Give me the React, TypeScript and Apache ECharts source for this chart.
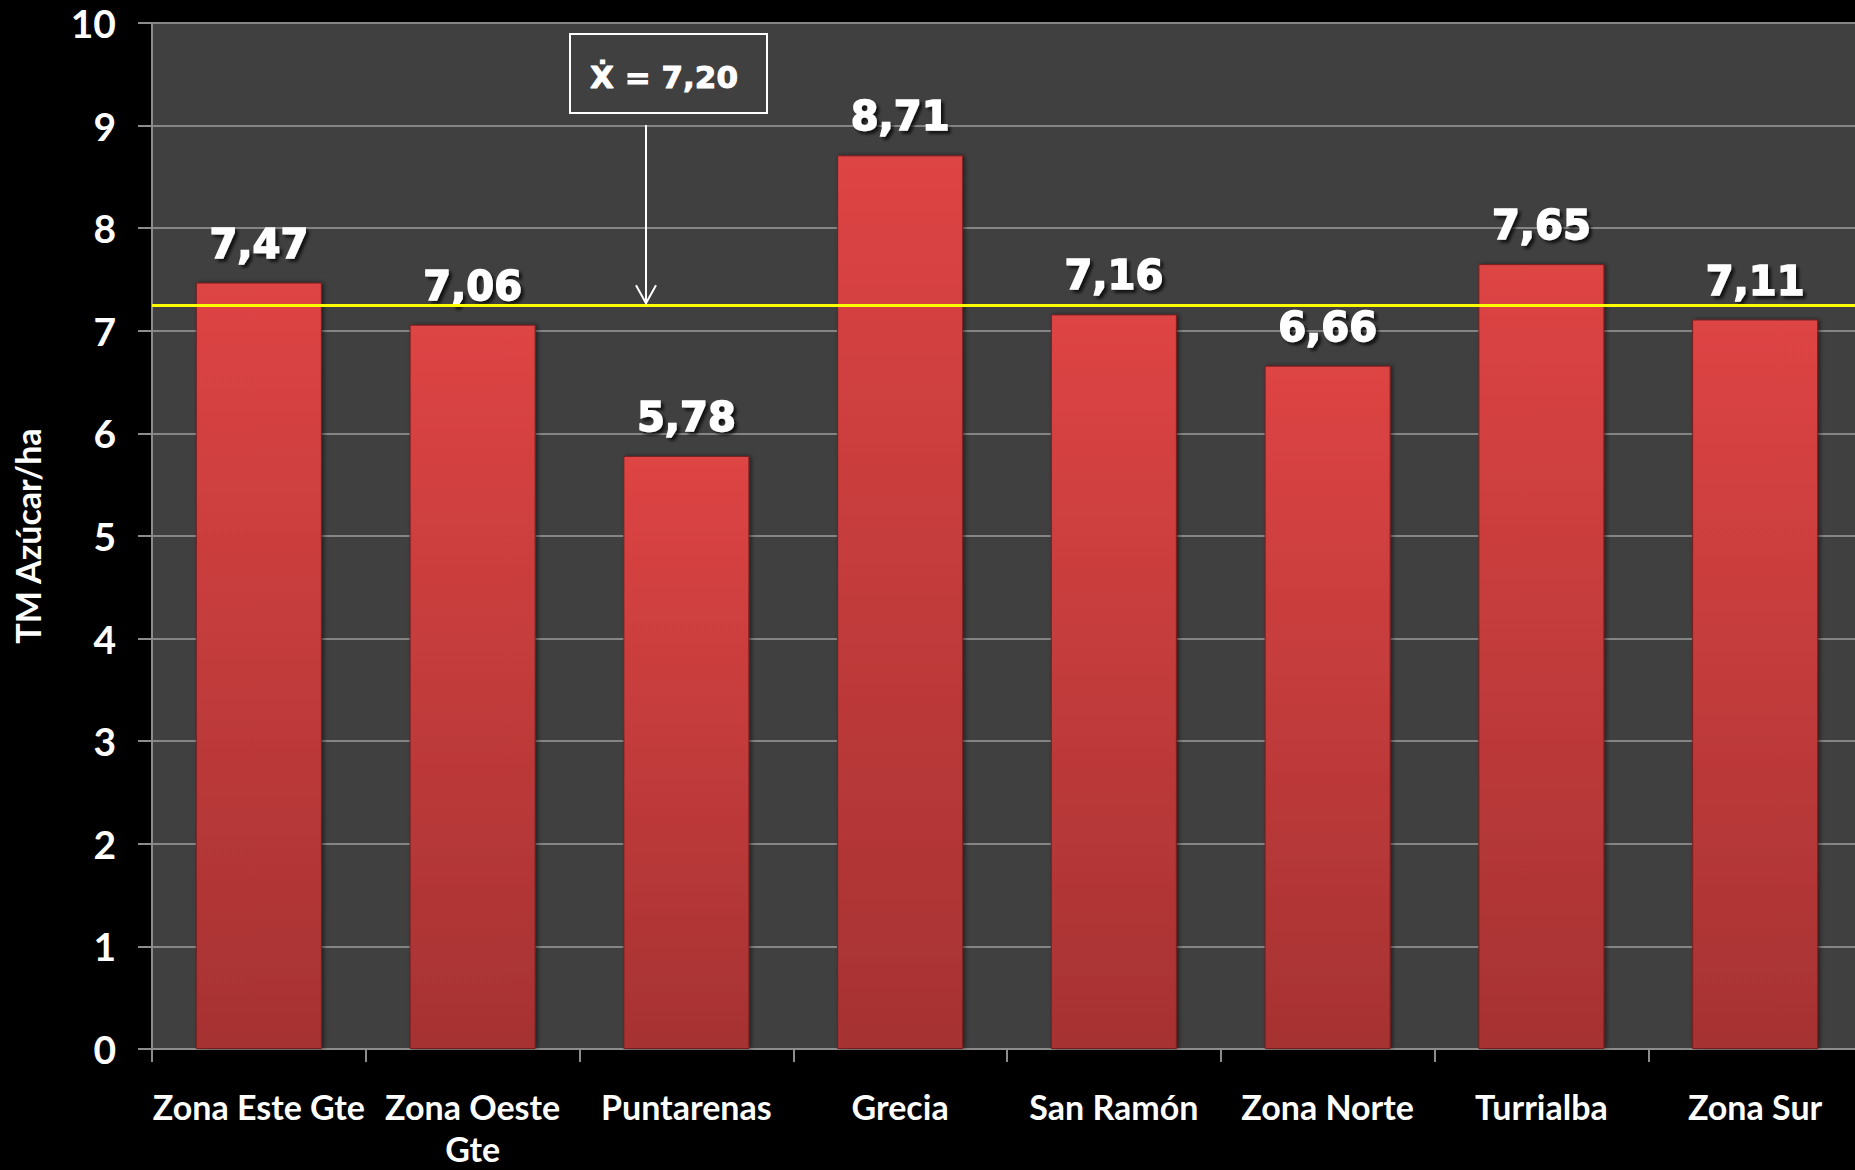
import React, { useEffect, useRef } from "react";
import * as echarts from "echarts";

const categories = [
  "Zona Este Gte",
  "Zona Oeste Gte",
  "Puntarenas",
  "Grecia",
  "San Ramón",
  "Zona Norte",
  "Turrialba",
  "Zona Sur",
];
const values = [7.47, 7.06, 5.78, 8.71, 7.16, 6.66, 7.65, 7.11];
const yTicks = [0, 1, 2, 3, 4, 5, 6, 7, 8, 9, 10];
const meanLineValue = 7.25;
const meanText = "Ẋ = 7,20";
const yAxisTitle = "TM Azúcar/ha";

const wrapLabels: Record<string, string> = { "Zona Oeste Gte": "Zona Oeste\nGte" };

export default function App() {
  const ref = useRef<HTMLDivElement>(null);
  useEffect(() => {
    document.body.style.margin = "0";
    const chart = echarts.init(ref.current!, null, { renderer: "svg" });
    const option: any = {
      animation: false,
      backgroundColor: "#000000",
      grid: {
        left: 152,
        right: -7,
        top: 23,
        bottom: 121,
        show: true,
        backgroundColor: "#404040",
        borderWidth: 0,
        containLabel: false,
        outerBoundsMode: "none",
      },
      xAxis: {
        type: "category",
        data: categories,
        axisLine: { show: true, lineStyle: { color: "#8c8c8c", width: 2 } },
        axisTick: { show: true, length: 13, lineStyle: { color: "#8c8c8c", width: 2 } },
        axisLabel: {
          color: "#ffffff",
          fontFamily: "Lato",
          fontWeight: "bold",
          fontSize: 34,
          margin: 36,
          lineHeight: 42,
          interval: 0,
          formatter: (v: string) => wrapLabels[v] || v,
        },
      },
      yAxis: {
        type: "value",
        min: yTicks[0],
        max: yTicks[yTicks.length - 1],
        interval: 1,
        name: yAxisTitle,
        nameLocation: "middle",
        nameGap: 108,
        nameTextStyle: {
          color: "#ffffff",
          fontFamily: "Lato",
          fontWeight: "bold",
          fontSize: 34,
        },
        axisLine: { show: true, lineStyle: { color: "#8c8c8c", width: 2 } },
        axisTick: { show: true, length: 14, lineStyle: { color: "#8c8c8c", width: 2 } },
        splitLine: { show: true, lineStyle: { color: "#858585", width: 2 } },
        axisLabel: {
          color: "#ffffff",
          fontFamily: "Lato",
          fontWeight: "bold",
          fontSize: 39,
          margin: 36,
        },
      },
      series: [
        {
          type: "bar",
          data: values,
          barWidth: 126,
          itemStyle: {
            color: new echarts.graphic.LinearGradient(0, 0, 0, 1, [
              { offset: 0, color: "#de4444" },
              { offset: 1, color: "#a63232" },
            ]),
            borderColor: "#7a1f1f",
            borderWidth: 1,
            shadowColor: "rgba(0,0,0,0.5)",
            shadowBlur: 4,
            shadowOffsetX: 2,
            shadowOffsetY: 0,
          },
          label: {
            show: true,
            position: "top",
            distance: 19,
            color: "#ffffff",
            fontFamily: "DejaVu Sans",
            fontWeight: "bold",
            fontSize: 40,
            textBorderColor: "#ffffff",
            textBorderWidth: 1.5,
            textShadowColor: "rgba(0,0,0,0.7)",
            textShadowBlur: 3,
            textShadowOffsetX: 3,
            textShadowOffsetY: 3,
            formatter: (p: any) => p.value.toFixed(2).replace(".", ","),
          },
          markLine: {
            silent: true,
            symbol: "none",
            label: { show: false },
            lineStyle: { color: "#ffff00", width: 3, type: "solid" },
            data: [{ yAxis: meanLineValue }],
          },
        },
      ],
    };
    chart.setOption(option);
    const lineY = chart.convertToPixel({ yAxisIndex: 0 }, meanLineValue) as number;
    const arrowX = 646;
    const boxTop = 34;
    const boxBottom = 113;
    chart.setOption({
      graphic: [
        {
          type: "rect",
          shape: { x: 570, y: boxTop, width: 197, height: boxBottom - boxTop },
          style: { fill: "#404040", stroke: "#ffffff", lineWidth: 2 },
          z: 10,
        },
        {
          type: "text",
          x: 590,
          y: 77,
          style: {
            text: meanText,
            fill: "#ffffff",
            font: "bold 31px 'DejaVu Sans'",
            stroke: "#ffffff",
            lineWidth: 1,
            verticalAlign: "middle",
            align: "left",
          },
          z: 11,
        },
        {
          type: "line",
          shape: { x1: arrowX, y1: 125, x2: arrowX, y2: lineY - 2 },
          style: { stroke: "#ffffff", lineWidth: 2 },
          z: 10,
        },
        {
          type: "polyline",
          shape: {
            points: [
              [arrowX - 10, lineY - 20],
              [arrowX, lineY - 2],
              [arrowX + 10, lineY - 20],
            ],
          },
          style: { stroke: "#ffffff", lineWidth: 2, fill: "none" },
          z: 10,
        },
      ],
    });
    return () => chart.dispose();
  }, []);
  return (
    <div
      ref={ref}
      style={{ position: "absolute", left: 0, top: 0, width: 1855, height: 1170 }}
    />
  );
}
